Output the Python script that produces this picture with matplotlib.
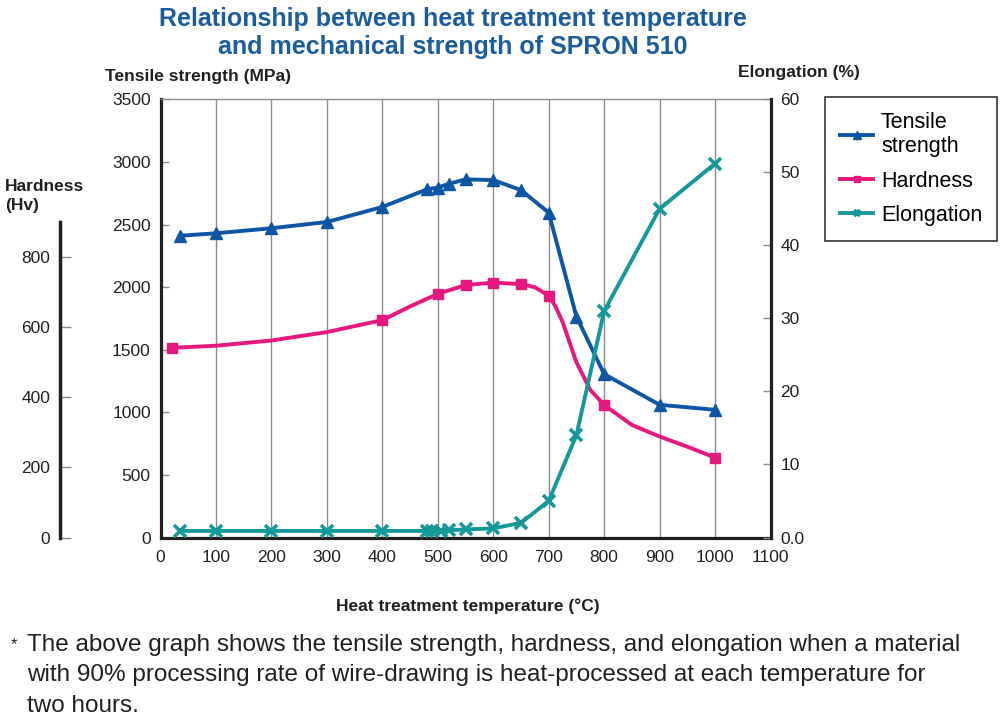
import matplotlib
matplotlib.use("Agg")
import matplotlib.pyplot as plt

plt.rcParams['font.family'] = ['Liberation Sans', 'DejaVu Sans']

# values
tens_temp = [35, 100, 200, 300, 400, 480, 500, 520, 550, 600, 650, 700, 750, 800, 900, 1000]
tens_mpa = [2410, 2430, 2470, 2520, 2640, 2780, 2795, 2825, 2860, 2855, 2775, 2595, 1765, 1305, 1060, 1020]

hard_temp = [20, 100, 200, 300, 400, 450, 500, 550, 600, 650, 675, 700, 712, 725, 737, 750, 775, 800, 850, 900, 950, 1000]
hard_hv = [541, 547, 562, 586, 620, 659, 695, 720, 727, 723, 714, 690, 660, 615, 560, 500, 421, 378, 321, 288, 259, 228]
hard_marked = [20, 400, 500, 550, 600, 650, 700, 800, 1000]

elong_temp = [35, 100, 200, 300, 400, 480, 490, 505, 520, 550, 600, 650, 700, 750, 800, 900, 1000]
elong_pct = [0.9, 0.9, 0.9, 0.9, 0.9, 0.9, 0.9, 0.9, 1.0, 1.1, 1.25, 2.0, 5.0, 14.0, 31.0, 45.0, 51.2]

x_ticks = list(range(0, 1101, 100))
tens_ticks = list(range(0, 3501, 500))
hard_ticks = [0, 200, 400, 600, 800]
elong_ticks = [0, 10, 20, 30, 40, 50, 60]
elong_labels = ['0.0', '10', '20', '30', '40', '50', '60']

BLUE = '#0b57a6'
PINK = '#e8177f'
TEAL = '#14999b'
GRID = '#8c8c8c'
INK = '#231f20'

fig = plt.figure(figsize=(10, 7.23), dpi=100)
ax = fig.add_axes([0.1605, 1 - 537.5 / 723, 0.61, 438.2 / 723])
ax.set_xlim(0, 1100)
ax.set_ylim(0, 3500)
ax.set_xticks(x_ticks)
ax.set_yticks(tens_ticks)
ax.grid(axis='x', color=GRID, lw=1.0)
ax.set_axisbelow(True)
ax.tick_params(axis='x', length=0, pad=9, labelsize=12.5, labelcolor=INK)
ax.tick_params(axis='y', direction='in', length=6, color=GRID, width=1,
               labelsize=12.5, pad=7, labelcolor=INK)
for s in ('left', 'bottom'):
    ax.spines[s].set_linewidth(2.3)
    ax.spines[s].set_color(INK)
ax.spines['top'].set_linewidth(1.0)
ax.spines['top'].set_color(GRID)
ax.spines['right'].set_visible(False)

l_t, = ax.plot(tens_temp, tens_mpa, color=BLUE, lw=2.8, marker='^', ms=9,
               zorder=5, label='Tensile\nstrength')

# hardness scale, drawn as a free axis on the far left
ax_h = ax.twinx()
ax_h.set_ylim(0, 1250)
ax_h.yaxis.set_ticks_position('left')
ax_h.yaxis.set_label_position('left')
for s in ('right', 'top', 'bottom'):
    ax_h.spines[s].set_visible(False)
ax_h.spines['left'].set_position(('axes', -0.165))
ax_h.spines['left'].set_bounds(0, 900)
ax_h.spines['left'].set_linewidth(2.5)
ax_h.spines['left'].set_color(INK)
ax_h.set_yticks(hard_ticks)
ax_h.tick_params(axis='y', direction='in', length=8, color=GRID, width=1,
                 labelsize=12.5, pad=7, labelcolor=INK)
mark_idx = [hard_temp.index(t) for t in hard_marked]
l_h, = ax_h.plot(hard_temp, hard_hv, color=PINK, lw=2.8, marker='s', ms=7.5,
                 markevery=mark_idx, label='Hardness')

# elongation on the right
ax_e = ax.twinx()
ax_e.set_ylim(0, 60)
ax_e.set_yticks(elong_ticks)
ax_e.set_yticklabels(elong_labels)
for s in ('left', 'top', 'bottom'):
    ax_e.spines[s].set_visible(False)
ax_e.spines['right'].set_linewidth(2.3)
ax_e.spines['right'].set_color(INK)
ax_e.tick_params(axis='y', direction='in', length=6, color=GRID, width=1,
                 labelsize=12.5, pad=7, labelcolor=INK)
l_e, = ax_e.plot(elong_temp, elong_pct, color=TEAL, lw=2.8, marker='x', ms=8,
                 mew=2.6, label='Elongation')

leg = fig.legend(handles=[l_t, l_h, l_e], loc='upper left',
                 bbox_to_anchor=(0.825, 1 - 97 / 723), borderaxespad=0,
                 fancybox=False, edgecolor='black', fontsize=15.5,
                 handlelength=1.55, handletextpad=0.35, markerscale=0.6,
                 labelspacing=0.62, borderpad=0.7)
leg.get_frame().set_linewidth(1.2)

fig.text(0.453, 1 - 33 / 723, 'Relationship between heat treatment temperature\n'
         'and mechanical strength of SPRON 510', ha='center', va='center',
         fontsize=18, fontweight='bold', color='#1a5c9c', linespacing=1.25)
fig.text(0.105, 1 - 76 / 723, 'Tensile strength (MPa)', ha='left', va='center',
         fontsize=12.5, fontweight='bold', color=INK)
fig.text(0.86, 1 - 72 / 723, 'Elongation (%)', ha='right', va='center',
         fontsize=12.5, fontweight='bold', color=INK)
fig.text(0.005, 1 - 196 / 723, 'Hardness\n(Hv)', ha='left', va='center',
         fontsize=12.5, fontweight='bold', color=INK, linespacing=1.35)
fig.text(0.468, 1 - 606 / 723, 'Heat treatment temperature (°C)', ha='center',
         va='center', fontsize=12.5, fontweight='bold', color=INK)

fig.text(0.011, 1 - 637 / 723, '*', ha='left', va='top', fontsize=12, color=INK)
fig.text(0.027, 1 - 634 / 723,
         'The above graph shows the tensile strength, hardness, and elongation when a material\n'
         'with 90% processing rate of wire-drawing is heat-processed at each temperature for\n'
         'two hours.', ha='left', va='top', fontsize=17.5, color=INK,
         linespacing=1.5)

fig.savefig('out.png', dpi=100)
